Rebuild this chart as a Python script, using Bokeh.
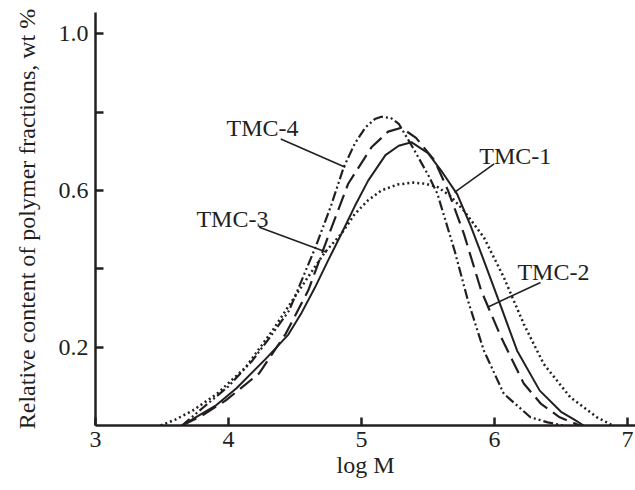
from bokeh.plotting import figure
from bokeh.models import Range1d, Label, FixedTicker
from bokeh.embed import file_html
from bokeh.resources import INLINE

# ---- data ----
tmc1_x = [3.65, 3.75, 3.9, 4.06, 4.28, 4.45, 4.55, 4.65, 4.75, 4.85, 4.95, 5.05, 5.18, 5.28, 5.375,
          5.5, 5.6, 5.72, 5.82, 5.92, 6.05, 6.17, 6.34, 6.5, 6.6, 6.67]
tmc1_y = [0.0, 0.02, 0.05, 0.095, 0.17, 0.232, 0.288, 0.352, 0.422, 0.49, 0.56, 0.625, 0.69, 0.714, 0.723,
          0.695, 0.65, 0.59, 0.51, 0.421, 0.302, 0.191, 0.089, 0.035, 0.015, 0.0]

tmc2_x = [3.65, 3.8, 3.98, 4.23, 4.43, 4.6, 4.73, 4.9, 5.075, 5.2, 5.3, 5.41, 5.55, 5.65, 5.77,
          5.9, 6.05, 6.22, 6.35, 6.49, 6.64]
tmc2_y = [0.0, 0.025, 0.064, 0.133, 0.234, 0.345, 0.465, 0.617, 0.71, 0.75, 0.76, 0.734, 0.676, 0.6, 0.489,
          0.344, 0.225, 0.107, 0.055, 0.021, 0.0]

tmc3_x = [3.49, 3.6, 3.73, 3.91, 4.13, 4.33, 4.48, 4.6, 4.72, 4.85, 4.95, 5.05, 5.15, 5.27, 5.39,
          5.48, 5.575, 5.67, 5.77, 5.92, 6.07, 6.22, 6.37, 6.57, 6.77, 6.89]
tmc3_y = [0.0, 0.015, 0.038, 0.08, 0.149, 0.242, 0.319, 0.38, 0.44, 0.49, 0.54, 0.575, 0.6, 0.615, 0.62,
          0.617, 0.608, 0.585, 0.548, 0.48, 0.378, 0.259, 0.157, 0.072, 0.021, 0.0]

tmc4_x = [3.65, 3.81, 4.0, 4.18, 4.3, 4.455, 4.654, 4.77, 4.866, 4.95, 5.03, 5.1, 5.15, 5.22, 5.28,
          5.4, 5.5, 5.57, 5.7, 5.8, 5.92, 6.07, 6.27, 6.4, 6.52]
tmc4_y = [0.0, 0.046, 0.1, 0.166, 0.22, 0.293, 0.455, 0.56, 0.659, 0.72, 0.761, 0.782, 0.788, 0.785, 0.77,
          0.701, 0.64, 0.592, 0.446, 0.319, 0.191, 0.081, 0.021, 0.008, 0.0]

series_names = ["TMC-1", "TMC-2", "TMC-3", "TMC-4"]

x_ticks = [3, 4, 5, 6, 7]
y_ticks = [0.2, 0.4, 0.6, 0.8, 1.0]
y_tick_labels = {0.2: "0.2", 0.4: "", 0.6: "0.6", 0.8: "", 1.0: "1.0"}

x_title = "log M"
y_title = "Relative content of polymer fractions, wt %"

# ---- styling ----
INK = "#231f20"
FONT = "Liberation Serif"
FS = "24px"

p = figure(width=635, height=490, output_backend="svg", toolbar_location=None,
           x_range=Range1d(3, 7.06), y_range=Range1d(0, 1.054),
           min_border_left=95, min_border_right=0, min_border_top=12, min_border_bottom=65)
p.outline_line_color = None
p.xgrid.grid_line_color = None
p.ygrid.grid_line_color = None
p.background_fill_color = "white"
p.border_fill_color = "white"

for ax in (p.xaxis[0], p.yaxis[0]):
    ax.axis_line_color = INK
    ax.axis_line_width = 2.5
    ax.major_tick_line_color = INK
    ax.major_tick_line_width = 2.5
    ax.major_tick_in = 8
    ax.major_tick_out = 0
    ax.minor_tick_line_color = None
    ax.major_label_text_font = FONT
    ax.major_label_text_font_size = FS
    ax.major_label_text_color = INK
    ax.axis_label_text_font = FONT
    ax.axis_label_text_font_size = FS
    ax.axis_label_text_font_style = "normal"
    ax.axis_label_text_color = INK

p.xaxis.ticker = FixedTicker(ticks=x_ticks)
p.xaxis.major_label_standoff = 6
p.xaxis.axis_label = x_title
p.xaxis.axis_label_standoff = 2

p.yaxis.ticker = FixedTicker(ticks=y_ticks)
p.yaxis.major_label_overrides = y_tick_labels
p.yaxis.major_label_standoff = 7
p.yaxis.axis_label = y_title
p.yaxis.axis_label_standoff = 16

# ---- curves ----
p.line(tmc1_x, tmc1_y, line_color=INK, line_width=2.0)
p.line(tmc2_x, tmc2_y, line_color=INK, line_width=2.2, line_dash="16 7")
p.line(tmc3_x, tmc3_y, line_color=INK, line_width=2.5, line_dash="2 3")
p.line(tmc4_x, tmc4_y, line_color=INK, line_width=2.2, line_dash="10 3 2 3 2 3")

# ---- annotation labels with leader lines ----
label_pos = {"TMC-1": (5.885, 0.689), "TMC-2": (6.172, 0.391),
             "TMC-3": (3.759, 0.527), "TMC-4": (3.985, 0.758)}
leaders = {"TMC-1": (5.997, 0.6675, 5.699, 0.595), "TMC-2": (6.346, 0.365, 5.948, 0.302),
           "TMC-3": (4.231, 0.506, 4.739, 0.442), "TMC-4": (4.393, 0.731, 4.878, 0.659)}

for name in series_names:
    lx, ly = label_pos[name]
    p.add_layout(Label(x=lx, y=ly, text=name, text_font=FONT, text_font_size=FS,
                       text_color=INK, text_baseline="alphabetic", text_align="left"))
    x0, y0, x1, y1 = leaders[name]
    p.segment(x0=[x0], y0=[y0], x1=[x1], y1=[y1], line_color=INK, line_width=1.6)

open("out.html", "w").write(file_html(p, INLINE))
